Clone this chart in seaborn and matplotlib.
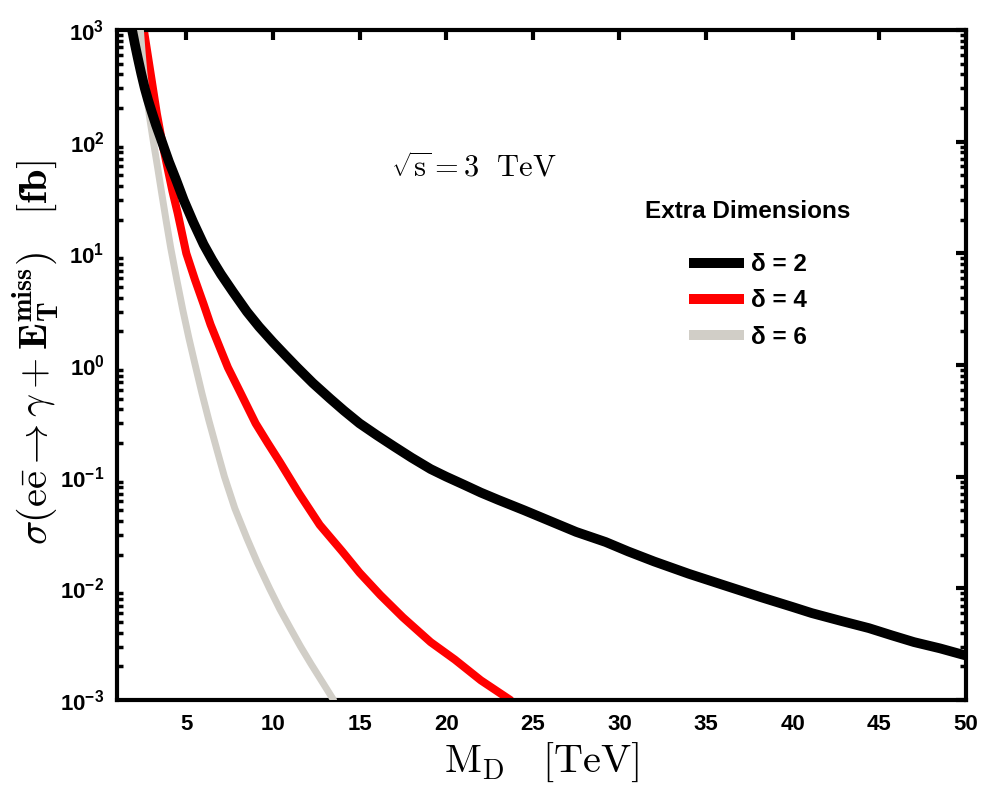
import numpy as np
import pandas as pd
import seaborn as sns
import matplotlib.pyplot as plt
from matplotlib.lines import Line2D
from matplotlib.ticker import LogLocator, NullFormatter

# cross section [fb] vs M_D [TeV]
md_d2 = [1.87, 2.05, 2.2, 2.4, 2.6, 2.8, 3.0, 3.25, 3.5, 3.75, 4.0, 4.4, 4.85, 5.4, 6.0, 6.5,
         7.0, 7.7, 8.5, 9.2, 10.0, 10.7, 11.4, 12.3, 13.3, 14.1, 15.0, 16.0, 17.0, 18.0, 19.1,
         20.0, 21.0, 22.0, 23.0, 24.5, 26.0, 27.5, 29.2, 30.5, 32.0, 34.0, 36.0, 38.2, 40.0,
         41.1, 42.8, 44.4, 45.7, 47.0, 48.5, 50.0]
xs_d2 = [1000, 724, 562, 407, 302, 234, 186, 141, 110, 85, 66, 46, 30, 19, 12, 8.7,
         6.5, 4.5, 3.0, 2.2, 1.6, 1.23, 0.95, 0.69, 0.50, 0.39, 0.30, 0.235, 0.186, 0.148, 0.117,
         0.100, 0.085, 0.072, 0.062, 0.050, 0.040, 0.032, 0.026, 0.0214, 0.0174, 0.0135, 0.0107,
         0.0083, 0.0068, 0.0060, 0.0051, 0.0044, 0.0038, 0.0033, 0.0029, 0.0025]

md_d4 = [2.55, 2.8, 3.0, 3.3, 3.6, 3.9, 4.2, 4.5, 5.0, 5.5, 6.0, 6.4, 7.0, 7.4, 8.1, 9.0,
         9.7, 10.4, 11.5, 12.7, 14.0, 15.0, 16.2, 17.5, 19.1, 20.5, 22.0, 23.7]
xs_d4 = [1000, 562, 355, 178, 100, 60, 36, 23, 10, 5.8, 3.5, 2.3, 1.35, 0.95, 0.575, 0.30,
         0.20, 0.135, 0.071, 0.037, 0.0214, 0.0138, 0.0087, 0.0055, 0.0033, 0.0023, 0.0015, 0.001]

md_d6 = [2.35, 2.45, 2.55, 2.7, 2.9, 3.1, 3.35, 3.6, 3.85, 4.1, 4.45, 4.8, 5.15, 5.5, 5.9,
         6.3, 6.75, 7.2, 7.8, 8.5, 9.1, 9.8, 10.4, 11.0, 11.6, 12.2, 12.85, 13.5]
xs_d6 = [1000, 630, 417, 263, 158, 100, 58, 33, 19, 11.2, 5.8, 3.1, 1.74, 1.02, 0.56,
         0.32, 0.178, 0.10, 0.052, 0.028, 0.017, 0.010, 0.0065, 0.0044, 0.0030, 0.0021, 0.00145, 0.001]

x_ticks = [5, 10, 15, 20, 25, 30, 35, 40, 45, 50]
y_ticks = [1e-3, 1e-2, 1e-1, 1e0, 1e1, 1e2, 1e3]

labels = ['δ = 2', 'δ = 4', 'δ = 6']
colors = ['black', '#ff0000', '#d1cec7']
widths = [7.0, 5.8, 5.0]

sns.set_style('white')
plt.rcParams['font.family'] = ['Liberation Sans', 'DejaVu Sans']
plt.rcParams['font.weight'] = 'bold'
plt.rcParams['text.color'] = 'black'
plt.rcParams['axes.labelcolor'] = 'black'
plt.rcParams['xtick.color'] = 'black'
plt.rcParams['ytick.color'] = 'black'
plt.rcParams['mathtext.fontset'] = 'custom'
plt.rcParams['mathtext.rm'] = 'Liberation Sans:bold'
plt.rcParams['mathtext.it'] = 'Liberation Sans:italic:bold'
plt.rcParams['mathtext.bf'] = 'Liberation Sans:bold'
plt.rcParams['mathtext.default'] = 'rm'

fig = plt.figure(figsize=(9.84, 7.85), dpi=100)
ax = fig.add_axes([117/984, 85/785, 849/984, 670/785])

df2 = pd.DataFrame({'MD': md_d2, 'xs': xs_d2})
df4 = pd.DataFrame({'MD': md_d4, 'xs': xs_d4})
df6 = pd.DataFrame({'MD': md_d6, 'xs': xs_d6})

sns.lineplot(data=df4, x='MD', y='xs', ax=ax, color=colors[1], lw=widths[1], zorder=2)
sns.lineplot(data=df6, x='MD', y='xs', ax=ax, color=colors[2], lw=widths[2], zorder=3)
sns.lineplot(data=df2, x='MD', y='xs', ax=ax, color=colors[0], lw=widths[0], zorder=4)
for ln in ax.get_lines():
    ln.set_solid_joinstyle('round')

ax.set_yscale('log')
ax.set_xlim(1, 50)
ax.set_ylim(1e-3, 1e3)
ax.set_xticks(x_ticks)
ax.set_yticks(y_ticks)
ax.yaxis.set_minor_locator(LogLocator(base=10, subs=np.arange(2, 10), numticks=20))
ax.yaxis.set_minor_formatter(NullFormatter())

for s in ax.spines.values():
    s.set_linewidth(3)
    s.set_color('black')
ax.tick_params(which='major', direction='in', length=7, width=3, top=True, right=True,
               labelsize=16)
ax.tick_params(axis='x', which='major', pad=10)
ax.tick_params(axis='y', which='major', pad=9)
ax.tick_params(which='minor', direction='in', length=4, width=2.5, left=True, right=True)
ax.tick_params(axis='x', which='minor', bottom=False, top=False)

ax.set_xlabel(r'$\mathrm{M_D}\ \ \ [\mathrm{TeV}]$', fontsize=29, labelpad=4,
              math_fontfamily='cm')
ax.set_ylabel(r'$\sigma(\mathrm{e\bar{e}} \rightarrow \gamma + \mathbf{E_T^{miss}})\quad [\mathbf{fb}]$',
              fontsize=29, math_fontfamily='cm')
ax.yaxis.set_label_coords(-0.066, 0.518)

ax.text(16.8, 57, r'$\sqrt{\mathrm{s}} = \mathbf{3}\ \ \mathrm{TeV}$', fontsize=22,
        va='center', ha='left', math_fontfamily='cm')

handles = [Line2D([], [], color=c, lw=7.2, solid_capstyle='butt') for c in colors]
leg = ax.legend(handles, labels, title='Extra Dimensions', frameon=False,
                loc='center', bbox_to_anchor=(0.743, 0.6355), fontsize=17.5,
                title_fontproperties={'weight': 'bold', 'size': 17.5},
                handlelength=2.26, handletextpad=0.3, labelspacing=0.55)
leg._legend_box.sep = 22

fig.savefig('out.png', dpi=100)
